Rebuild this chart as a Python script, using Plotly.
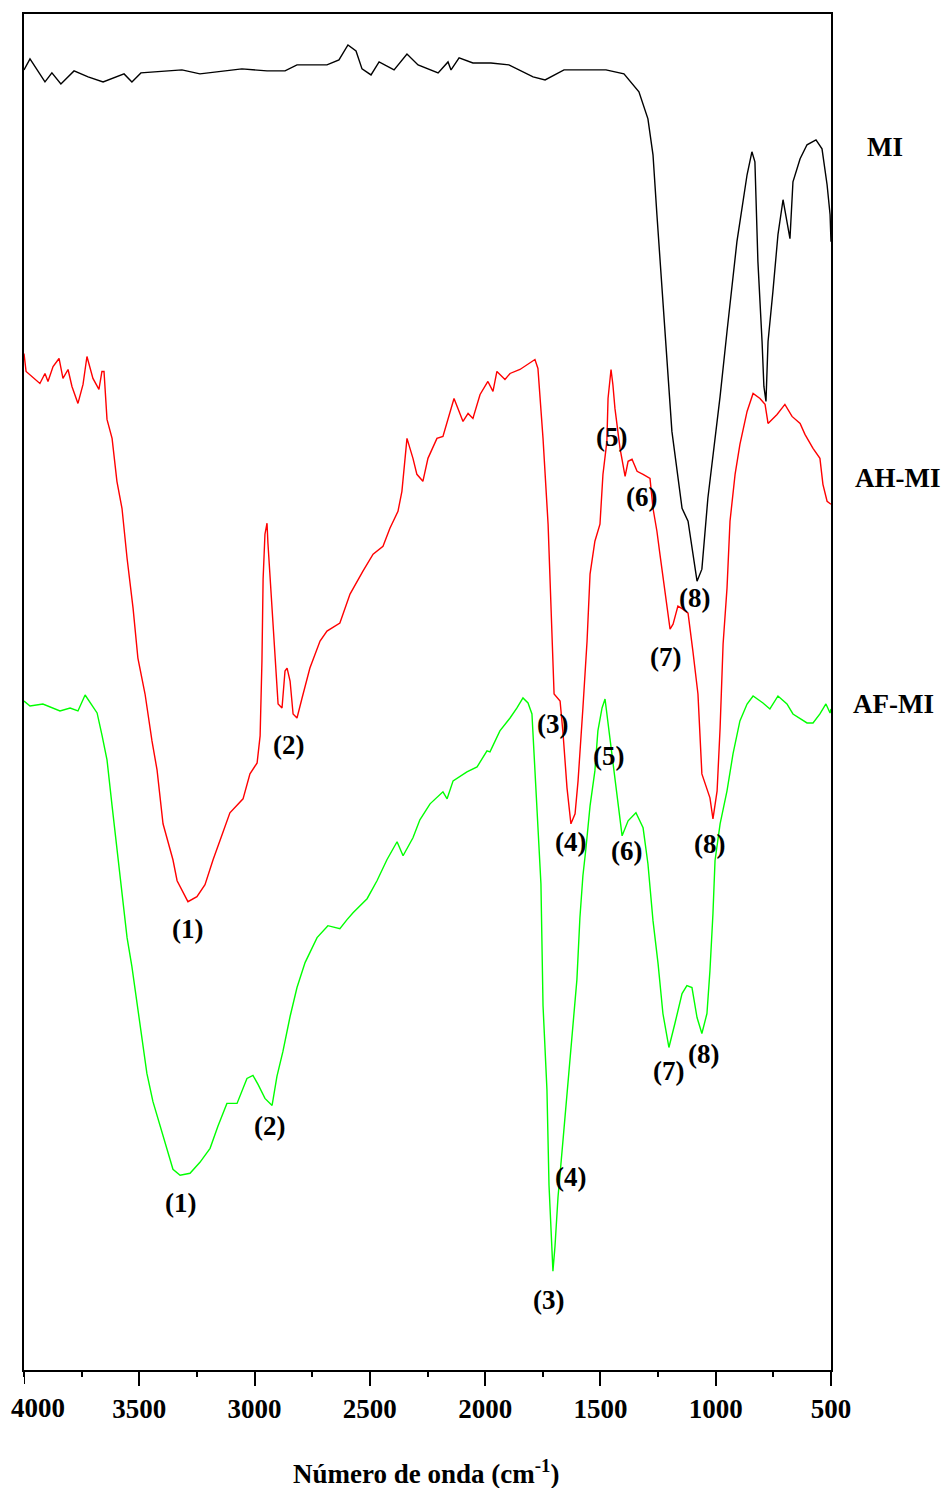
import plotly.graph_objects as go

# ---- Data (wavenumber in cm-1, transmittance in arbitrary offset units) ----
wn_mi = [4000, 3974, 3909, 3879, 3840, 3783, 3722, 3657, 3566, 3532, 3493, 3315, 3237, 3055,
         2946, 2868, 2816, 2686, 2634, 2595, 2560, 2534, 2495, 2460, 2395, 2339, 2291, 2204,
         2161, 2148, 2113, 2053, 1975, 1897, 1792, 1740, 1658, 1476, 1398, 1333, 1294, 1272,
         1255, 1237, 1220, 1190, 1146, 1120, 1081, 1060, 1034, 1003, 981, 951, 908, 864, 843,
         830, 817, 799, 791, 782, 773, 752, 730, 708, 691, 678, 665, 634, 604, 565, 539, 517,
         504, 500]
t_mi = [1302, 1313, 1290, 1299, 1288, 1301, 1295, 1290, 1298, 1290, 1299, 1302, 1298, 1303,
        1301, 1301, 1307, 1307, 1312, 1327, 1321, 1303, 1297, 1310, 1302, 1318, 1307, 1299,
        1310, 1302, 1314, 1309, 1309, 1307, 1295, 1292, 1302, 1302, 1298, 1280, 1253, 1217,
        1157, 1097, 1030, 940, 863, 850, 790, 802, 873, 930, 975, 1040, 1130, 1197, 1220,
        1210, 1110, 1030, 985, 970, 1030, 1080, 1137, 1172, 1150, 1133, 1190, 1213, 1227, 1232,
        1223, 1187, 1157, 1130]

wn_ah = [4000, 3991, 3931, 3909, 3896, 3874, 3848, 3831, 3809, 3792, 3766, 3744, 3727, 3701,
         3675, 3662, 3653, 3640, 3618, 3597, 3575, 3553, 3527, 3506, 3475, 3445, 3423, 3397,
         3354, 3336, 3289, 3250, 3215, 3180, 3141, 3107, 3050, 3020, 2989, 2976, 2968, 2963,
         2955, 2946, 2942, 2929, 2920, 2911, 2898, 2881, 2868, 2859, 2846, 2833, 2816, 2794,
         2760, 2716, 2686, 2630, 2608, 2586, 2530, 2486, 2443, 2413, 2378, 2361, 2339, 2313,
         2296, 2270, 2248, 2209, 2183, 2161, 2135, 2118, 2096, 2074, 2053, 2022, 1988, 1966,
         1949, 1914, 1892, 1849, 1818, 1784, 1771, 1749, 1727, 1719, 1710, 1701, 1675, 1662,
         1645, 1628, 1610, 1597, 1576, 1558, 1545, 1524, 1502, 1489, 1472, 1467, 1454, 1446,
         1437, 1415, 1393, 1380, 1363, 1341, 1315, 1285, 1272, 1255, 1242, 1220, 1198, 1185,
         1164, 1142, 1120, 1099, 1077, 1060, 1038, 1025, 1012, 994, 981, 968, 951, 938, 916,
         895, 864, 838, 808, 786, 773, 734, 700, 669, 634, 613, 578, 548, 535, 517, 500]
t_ah = [1018, 1000, 988, 998, 990, 1005, 1013, 993, 1002, 985, 968, 987, 1015, 993,
        982, 1000, 1000, 952, 933, 890, 863, 813, 763, 713, 677, 630, 601, 547,
        511, 490, 469, 474, 486, 511, 536, 558, 572, 597, 608, 635, 710, 792,
        837, 848, 828, 780, 740, 717, 667, 663, 700, 703, 690, 657, 653, 673,
        703, 730, 740, 748, 763, 777, 800, 817, 825, 843, 860, 880, 933, 913,
        897, 890, 913, 933, 935, 953, 973, 963, 950, 958, 953, 977, 990, 980,
        1000, 992, 998, 1002, 1007, 1012, 1003, 933, 847, 790, 723, 677, 670, 637,
        583, 547, 557, 590, 663, 730, 797, 830, 847, 897, 930, 973, 1002, 987,
        963, 923, 895, 910, 912, 900, 897, 893, 863, 840, 817, 777, 742, 747,
        765, 762, 758, 720, 677, 597, 583, 573, 552, 580, 643, 727, 783, 850, 897,
        927, 960, 978, 973, 967, 948, 957, 967, 955, 948, 937, 923, 913, 887, 870, 867]

wn_af = [4000, 3974, 3918, 3874, 3844, 3800, 3766, 3735, 3714, 3683, 3662, 3640, 3618, 3597,
         3575, 3553, 3532, 3510, 3488, 3467, 3441, 3410, 3380, 3354, 3323, 3280, 3237, 3193,
         3159, 3120, 3076, 3033, 3007, 2985, 2955, 2924, 2903, 2877, 2846, 2816, 2781, 2729,
         2682, 2630, 2599, 2573, 2512, 2469, 2426, 2382, 2356, 2313, 2283, 2239, 2183, 2165,
         2139, 2079, 2035, 1992, 1979, 1936, 1892, 1862, 1836, 1814, 1797, 1784, 1771, 1758,
         1749, 1732, 1723, 1714, 1706, 1697, 1684, 1662, 1641, 1619, 1602, 1589, 1576, 1563,
         1545, 1524, 1511, 1493, 1480, 1459, 1437, 1406, 1380, 1346, 1315, 1294, 1272, 1250,
         1229, 1203, 1177, 1146, 1125, 1103, 1081, 1060, 1038, 1025, 1012, 1003, 981, 951,
         925, 895, 864, 838, 795, 765, 730, 691, 665, 604, 578, 548, 522, 504, 500]
t_af = [670, 665, 667, 663, 660, 663, 660, 676, 669, 658, 636, 611, 565, 522,
        476, 433, 404, 369, 333, 297, 269, 244, 222, 201, 195, 197, 208, 222,
        244, 267, 267, 292, 295, 286, 272, 265, 294, 319, 354, 383, 408, 433,
        445, 442, 451, 458, 472, 490, 511, 529, 515, 533, 551, 567, 579, 572,
        590, 599, 604, 620, 619, 640, 653, 663, 673, 668, 657, 602, 537, 487,
        365, 281, 185, 131, 99, 124, 173, 231, 288, 346, 391, 453, 495, 522,
        565, 600, 640, 663, 672, 633, 590, 535, 550, 558, 543, 507, 450, 407,
        357, 323, 347, 377, 385, 383, 353, 337, 357, 400, 457, 510, 547, 580,
        617, 650, 667, 675, 668, 662, 675, 667, 657, 648, 648, 657, 667, 658, 662]

# Band labels: (text, wavenumber, value)
band_labels = [
    ("(8)", 1090, 773),                                   # MI
    ("(1)", 3289, 442), ("(2)", 2851, 626), ("(3)", 1706, 647), ("(4)", 1628, 529),
    ("(5)", 1450, 934), ("(6)", 1324, 874), ("(7)", 1216, 714), ("(8)", 1025, 527),  # AH-MI
    ("(1)", 3323, 167), ("(2)", 2937, 244), ("(3)", 1727, 70), ("(4)", 1628, 193),
    ("(5)", 1463, 615), ("(6)", 1385, 520), ("(7)", 1203, 299), ("(8)", 1051, 316),  # AF-MI
]
series_names = ["MI", "AH-MI", "AF-MI"]
series_label_pos = [(1.067, 0.902), (1.083, 0.658), (1.078, 0.491)]  # paper coords
tick_vals = [3500, 3000, 2500, 2000, 1500, 1000, 500]
tick_text = ["3500", "3000", "2500", "2000", "1500", "1000", "500"]
first_tick = "4000"
x_title = "Número de onda (cm<sup>-1</sup>)"

FONT = dict(family="Liberation Serif, Times New Roman, serif", size=27, color="black", weight="bold")

fig = go.Figure()
for wn, t, col in [(wn_mi, t_mi, "#000000"), (wn_ah, t_ah, "#ff0000"), (wn_af, t_af, "#00ff00")]:
    fig.add_trace(go.Scatter(x=wn, y=t, mode="lines", line=dict(color=col, width=1.4),
                             showlegend=False, hoverinfo="skip"))

ann = []
for txt, x, y in band_labels:
    ann.append(dict(x=x, y=y, xref="x", yref="y", text=txt, showarrow=False, font=FONT,
                    xanchor="center", yanchor="middle"))
for name, (x, y) in zip(series_names, series_label_pos):
    ann.append(dict(x=x, y=y, xref="paper", yref="paper", text=name, showarrow=False, font=FONT,
                    xanchor="center", yanchor="middle"))
ann.append(dict(x=0.0173, y=-0.028, xref="paper", yref="paper", text=first_tick, showarrow=False,
                font=FONT, xanchor="center", yanchor="middle"))
ann.append(dict(x=0.498, y=-0.0751, xref="paper", yref="paper", text=x_title, showarrow=False,
                font=FONT, xanchor="center", yanchor="middle"))

fig.update_layout(
    width=951, height=1488,
    margin=dict(l=24, r=120, t=12, b=118),
    paper_bgcolor="white", plot_bgcolor="white",
    annotations=ann,
    shapes=[dict(type="line", xref="x", yref="paper", x0=4000, x1=4000, y0=0, y1=-14 / 1358,
                 line=dict(color="black", width=2))],
    xaxis=dict(range=[4000, 500], autorange=False, showgrid=False, zeroline=False,
               showline=True, linecolor="black", linewidth=2, mirror=True,
               ticks="outside", ticklen=14, tickwidth=2, tickcolor="black",
               tickvals=tick_vals, ticktext=tick_text, tickfont=FONT,
               minor=dict(ticks="outside", ticklen=5, tickwidth=2, tickcolor="black", dtick=250,
                          tick0=500, showgrid=False)),
    yaxis=dict(range=[0, 1358], autorange=False, showgrid=False, zeroline=False,
               showline=True, linecolor="black", linewidth=1.5, mirror=True,
               ticks="", showticklabels=False),
)
fig.write_html("out.html")
